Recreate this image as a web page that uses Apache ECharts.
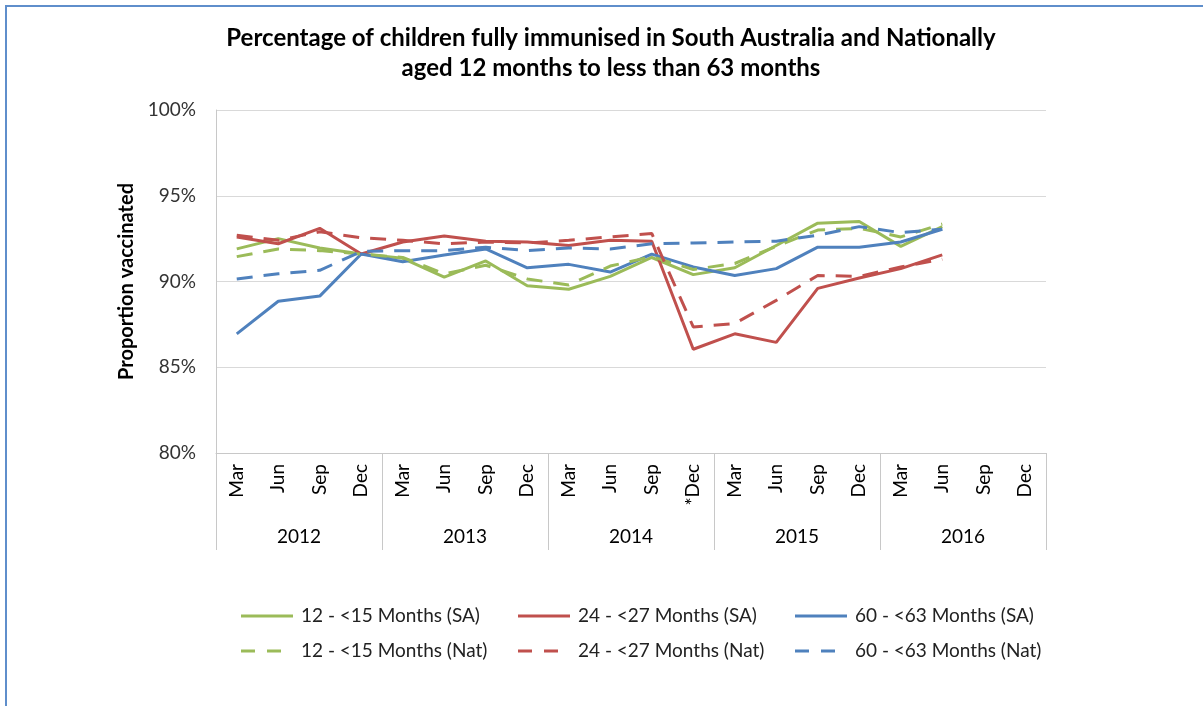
<!DOCTYPE html>
<html>
<head>
<meta charset="utf-8">
<script src="https://cdn.jsdelivr.net/npm/echarts@6/dist/echarts.min.js"></script>
<style>
  html, body { margin: 0; padding: 0; background: #fff; overflow: hidden; }
  #frame { position: absolute; left: 5px; top: 5px; width: 1400px; height: 900px; border: 2px solid #5f8ecb; box-sizing: border-box; }
  #main { position: absolute; left: 0; top: 0; width: 1203px; height: 706px; }
</style>
</head>
<body>
<div id="frame"></div>
<div id="main"></div>
<script>
const quarters = ['Mar', 'Jun', 'Sep', 'Dec', 'Mar', 'Jun', 'Sep', 'Dec', 'Mar', 'Jun', 'Sep', '*Dec',
  'Mar', 'Jun', 'Sep', 'Dec', 'Mar', 'Jun', 'Sep', 'Dec']
const years = ['2012', '2013', '2014', '2015', '2016']

// values in percent, Mar 2012 .. Jun 2016 (Sep/Dec 2016 not reported)
const sa12 = [91.9, 92.5, 91.95, 91.6, 91.35, 90.25, 91.2, 89.75, 89.55, 90.3, 91.4, 90.4, 90.8, 92.1, 93.4, 93.5, 92.05, 93.2, null, null]
const nat12 = [91.45, 91.9, 91.8, 91.6, 91.4, 90.45, 90.95, 90.15, 89.8, 90.9, 91.45, 90.7, 91.05, 92.05, 93.0, 93.1, 92.6, 93.35, null, null]
const sa24 = [92.6, 92.2, 93.1, 91.6, 92.3, 92.65, 92.35, 92.3, 92.1, 92.4, 92.35, 86.05, 86.95, 86.45, 89.6, 90.2, 90.75, 91.55, null, null]
const nat24 = [92.7, 92.4, 92.9, 92.55, 92.4, 92.2, 92.3, 92.25, 92.4, 92.6, 92.8, 87.35, 87.55, 88.9, 90.35, 90.3, 90.85, 91.3, null, null]
const sa60 = [86.95, 88.85, 89.15, 91.6, 91.15, 91.55, 91.9, 90.8, 91.0, 90.55, 91.6, 90.85, 90.35, 90.75, 92.0, 92.0, 92.3, 93.05, null, null]
const nat60 = [90.15, 90.45, 90.65, 91.75, 91.8, 91.8, 92.0, 91.8, 91.95, 91.9, 92.2, 92.25, 92.3, 92.35, 92.7, 93.2, 92.85, 93.05, null, null]

const green = '#9bbb59'
const red = '#c0504d'
const blue = '#4f81bd'
const font = 'Lato, "Liberation Sans", sans-serif'

// legend keys: a solid bar, or two short dashes in the same 52px box
const solidIcon = 'path://M0,0H52V3H0Z'
const dashIcon = 'path://M0,0H14V3H0Z M26,0H40V3H26Z M52,3L52,3Z'

const chart = echarts.init(document.getElementById('main'))

function line(name, data, color, dashed) {
  return {
    name: name,
    type: 'line',
    data: data,
    symbol: 'none',
    connectNulls: false,
    lineStyle: { color: color, width: 3, type: dashed ? [16, 11] : 'solid' },
    itemStyle: { color: color }
  }
}

function legendCol(left, saName, natName) {
  return {
    orient: 'vertical',
    left: left,
    top: 601,
    itemWidth: 52,
    itemHeight: 3,
    itemGap: 15,
    data: [
      { name: saName, icon: solidIcon },
      { name: natName, icon: dashIcon }
    ],
    textStyle: { fontFamily: font, fontSize: 19, lineHeight: 20, color: '#222', padding: [0, 0, 0, 3] }
  }
}

const option = {
  backgroundColor: 'transparent',
  animation: false,
  title: {
    text: 'Percentage of children fully immunised in South Australia and Nationally\naged 12 months to less than 63 months',
    left: 606,
    textAlign: 'center',
    top: 18,
    textStyle: { fontFamily: font, fontSize: 24, fontWeight: 'bold', color: '#000', lineHeight: 30 }
  },
  legend: [
    legendCol(236, '12 - <15 Months (SA)', '12 - <15 Months (Nat)'),
    legendCol(513, '24 - <27 Months (SA)', '24 - <27 Months (Nat)'),
    legendCol(790, '60 - <63 Months (SA)', '60 - <63 Months (Nat)')
  ],
  grid: { left: 216, right: 157, top: 110, bottom: 253 },
  xAxis: [
    {
      type: 'category',
      data: quarters,
      position: 'bottom',
      axisLine: { show: true, lineStyle: { color: '#c8c8c8', width: 1 } },
      axisTick: { show: false },
      axisLabel: { interval: 0, rotate: 90, margin: 11, fontFamily: font, fontSize: 19, color: '#000' }
    },
    {
      type: 'category',
      data: years,
      position: 'bottom',
      axisLine: { show: false },
      axisTick: { show: true, length: 97, lineStyle: { color: '#c8c8c8' } },
      axisLabel: { interval: 0, margin: 74, fontFamily: font, fontSize: 19, color: '#000' }
    }
  ],
  yAxis: {
    type: 'value',
    min: 80,
    max: 100,
    interval: 5,
    name: 'Proportion vaccinated',
    nameLocation: 'middle',
    nameGap: 76,
    nameTextStyle: { fontFamily: font, fontSize: 20, fontWeight: 'bold', color: '#000' },
    axisLine: { show: true, lineStyle: { color: '#c8c8c8' } },
    axisTick: { show: false },
    splitLine: { lineStyle: { color: '#d9d9d9' } },
    axisLabel: { formatter: '{value}%', margin: 20, fontFamily: font, fontSize: 19, color: '#333' }
  },
  series: [
    line('12 - <15 Months (SA)', sa12, green, false),
    line('24 - <27 Months (SA)', sa24, red, false),
    line('60 - <63 Months (SA)', sa60, blue, false),
    line('12 - <15 Months (Nat)', nat12, green, true),
    line('24 - <27 Months (Nat)', nat24, red, true),
    line('60 - <63 Months (Nat)', nat60, blue, true)
  ]
}

chart.setOption(option)
</script>
</body>
</html>
